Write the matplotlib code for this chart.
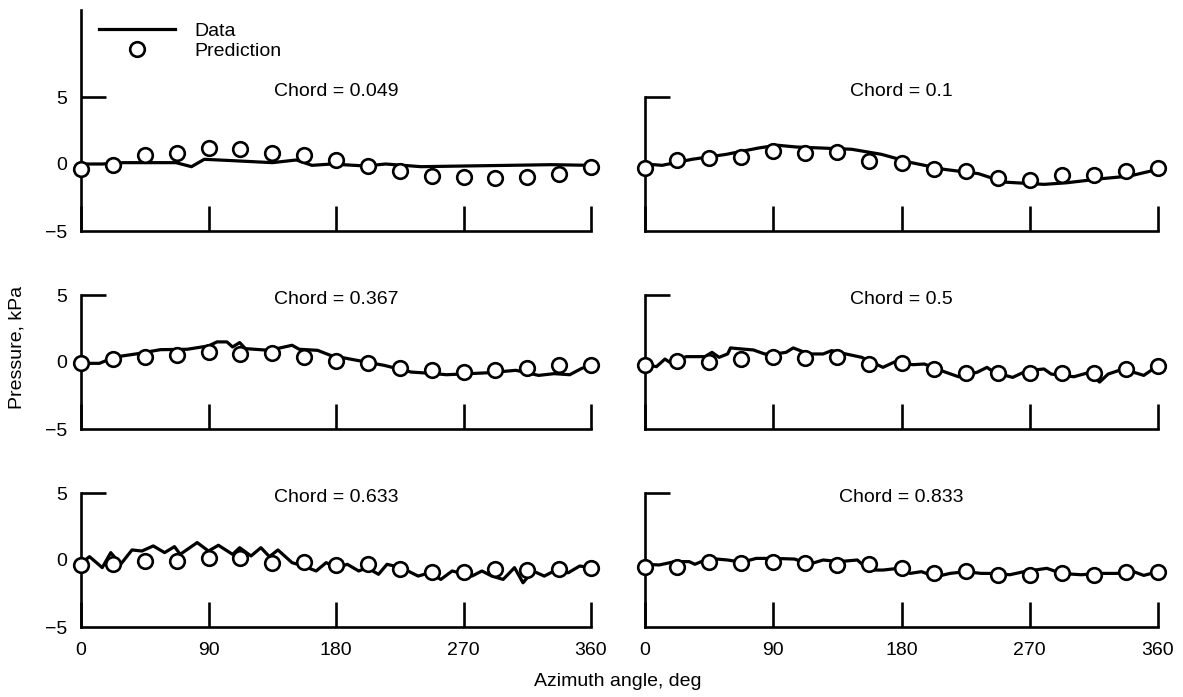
import matplotlib.pyplot as plt

plt.rcParams['font.family'] = ['Liberation Sans', 'DejaVu Sans']
plt.rcParams['font.size'] = 14

# prediction points, same azimuth stations in every panel
pred_angle = [0, 22.5, 45, 67.5, 90, 112.5, 135, 157.5, 180,
              202.5, 225, 247.5, 270, 292.5, 315, 337.5, 360]

chords = ['0.049', '0.1', '0.367', '0.5', '0.633', '0.833']

# chord = 0.049
data_ang_049 = [0, 15, 30, 48, 67, 78, 87, 107, 135, 152, 163, 177, 201, 215, 240, 270, 302, 332, 360]
data_049 = [0.0, 0.0, 0.1, 0.1, 0.1, -0.2, 0.35, 0.25, 0.1, 0.3, -0.1, 0.0, -0.15, 0.0, -0.2, -0.15, -0.1, -0.05, -0.1]
pred_049 = [-0.4, -0.05, 0.7, 0.85, 1.2, 1.1, 0.85, 0.7, 0.3, -0.15, -0.5, -0.9, -0.95, -1.05, -0.95, -0.75, -0.25]

# chord = 0.1
data_ang_1 = [0, 12, 33, 57, 80, 93, 106, 122, 145, 166, 187, 210, 234, 252, 280, 296, 320, 340, 360]
data_1 = [0.0, -0.1, 0.35, 0.72, 1.2, 1.4, 1.27, 1.2, 1.1, 0.72, 0.1, -0.4, -0.72, -1.35, -1.52, -1.4, -1.1, -0.9, -0.4]
pred_1 = [-0.27, 0.27, 0.42, 0.52, 0.97, 0.8, 0.92, 0.22, 0.1, -0.35, -0.52, -1.07, -1.22, -0.85, -0.85, -0.52, -0.32]

# chord = 0.367
data_ang_367 = [0, 13, 24, 40, 56, 75, 90, 96, 103, 107, 112, 116, 133, 149, 154, 167, 176, 195,
                214, 233, 250, 258, 274, 288, 307, 323, 334, 345, 353, 360]
data_367 = [-0.1, -0.1, 0.37, 0.62, 0.92, 0.95, 1.2, 1.5, 1.5, 1.12, 1.45, 1.0, 0.87, 1.25, 0.95, 0.87, 0.5, 0.12,
            -0.25, -0.75, -0.87, -0.95, -0.87, -0.8, -0.62, -1.0, -0.87, -0.95, -0.5, -0.2]
pred_367 = [-0.1, 0.2, 0.35, 0.55, 0.75, 0.57, 0.67, 0.37, 0.07, -0.07, -0.42, -0.62, -0.75, -0.62, -0.45, -0.25, -0.2]

# chord = 0.5
data_ang_5 = [0, 8, 14, 17, 29, 42, 47, 52, 58, 60, 68, 76, 84, 91, 99, 104, 115, 125, 131, 141, 152, 167,
              175, 188, 196, 208, 220, 233, 240, 245, 258, 268, 280, 285, 301, 312, 319, 325, 332, 343, 350, 360]
data_5 = [-0.15, -0.35, 0.22, 0.0, 0.4, 0.4, 0.72, 0.35, 0.6, 1.05, 0.97, 0.9, 0.6, 0.6, 0.72, 1.05, 0.6, 0.6,
          0.85, 0.6, 0.35, -0.4, 0.0, -0.2, -0.15, -0.65, -1.1, -0.77, -0.4, -0.77, -1.15, -0.65, -0.52, -0.9,
          -1.1, -0.77, -1.5, -0.9, -0.65, -0.77, -1.0, -0.27]
pred_5 = [-0.2, 0.1, 0.02, 0.22, 0.35, 0.3, 0.35, -0.15, -0.1, -0.52, -0.85, -0.85, -0.85, -0.82, -0.85, -0.52, -0.27]

# chord = 0.633
data_ang_633 = [0, 6, 15, 21, 28, 36, 43, 51, 59, 66, 70, 82, 90, 97, 107, 112, 120, 127, 133, 139, 149, 157,
                166, 173, 181, 188, 196, 202, 210, 216, 226, 238, 246, 254, 262, 276, 283, 290, 298, 306, 312,
                319, 327, 334, 344, 352, 360]
data_633 = [-0.25, 0.25, -0.57, 0.55, -0.32, 0.75, 0.67, 1.05, 0.55, 1.0, 0.42, 1.3, 0.67, 1.1, 0.42, 0.92,
            0.3, 0.92, 0.25, 0.75, -0.2, -0.45, -0.82, -0.2, -0.57, -0.32, -0.82, -0.57, -1.07, -0.32, -0.57,
            -1.2, -0.95, -1.45, -0.82, -1.2, -0.82, -1.2, -1.45, -0.57, -1.7, -0.82, -1.2, -0.82, -0.95, -0.45, -0.57]
pred_633 = [-0.4, -0.32, -0.07, -0.07, 0.17, 0.17, -0.2, -0.15, -0.4, -0.32, -0.65, -0.87, -0.87, -0.7, -0.77, -0.65, -0.57]

# chord = 0.833
data_ang_833 = [0, 10, 21, 31, 35, 45, 58, 68, 78, 91, 105, 115, 125, 136, 149, 157, 167, 178, 186, 194, 204,
                214, 225, 236, 246, 256, 266, 282, 292, 306, 320, 331, 343, 350, 360]
data_833 = [-0.32, -0.37, -0.12, -0.12, -0.32, 0.12, 0.0, -0.17, 0.12, 0.12, 0.07, -0.32, 0.0, -0.12, 0.0,
            -0.75, -0.75, -0.62, -1.0, -0.87, -1.25, -1.0, -0.87, -1.0, -1.0, -1.1, -0.87, -0.62, -1.0, -1.1,
            -1.0, -1.0, -0.87, -1.15, -0.87]
pred_833 = [-0.5, -0.5, -0.17, -0.2, -0.17, -0.25, -0.37, -0.32, -0.62, -1.0, -0.82, -1.1, -1.1, -1.0, -1.15, -0.87, -0.92]

panels = [(data_ang_049, data_049, pred_049),
          (data_ang_1, data_1, pred_1),
          (data_ang_367, data_367, pred_367),
          (data_ang_5, data_5, pred_5),
          (data_ang_633, data_633, pred_633),
          (data_ang_833, data_833, pred_833)]

W, H = 1183, 697
fig = plt.figure(figsize=(W / 100, H / 100), dpi=100)

# axes frames in pixels: (left x, right x) and (y of +5, y of -5)
cols = [(81, 591), (645, 1158)]
rows = [(97, 231), (295, 429), (493, 627)]

axes = []
for i in range(6):
    r, c = divmod(i, 2)
    x0, x1 = cols[c]
    y5, ym5 = rows[r]
    top = y5
    if i == 0:
        top = 10  # legend lives above the first panel
    ax = fig.add_axes([x0 / W, 1 - ym5 / H, (x1 - x0) / W, (ym5 - top) / H])
    per_unit = (ym5 - y5) / 10.0
    ax.set_ylim(-5, -5 + (ym5 - top) / per_unit)
    ax.set_xlim(0, 360)
    axes.append(ax)

for i, ax in enumerate(axes):
    ang, dat, pred = panels[i]
    ax.plot(ang, dat, color='black', lw=2.3, solid_joinstyle='round', label='Data', zorder=2)
    ax.plot(pred_angle, pred, 'o', ms=10.5, mfc='white', mec='black', mew=1.9,
            label='Prediction', clip_on=False, zorder=3)

    for s in ['top', 'right']:
        ax.spines[s].set_visible(False)
    for s in ['left', 'bottom']:
        ax.spines[s].set_linewidth(1.9)

    ax.set_xticks([0, 90, 180, 270, 360])
    ax.set_yticks([-5, 0, 5])
    ax.set_yticklabels(['\u22125', '0', '5'])
    ax.tick_params(direction='in', length=18, width=1.9)
    ax.tick_params(axis='x', pad=11)
    ax.tick_params(axis='y', pad=10)
    yt = ax.yaxis.get_major_ticks()
    yt[0].tick1line.set_visible(False)
    yt[1].tick1line.set_visible(False)
    if i < 4:
        ax.tick_params(axis='x', labelbottom=False)
    if i % 2 == 1:
        ax.tick_params(axis='y', labelleft=False)

    ty = 5.4 if i < 2 else 4.7
    ax.text(180, ty, 'Chord = ' + chords[i], ha='center', va='center')

axes[0].legend(loc='upper left', bbox_to_anchor=(99 / W, 1 - 22 / H), bbox_transform=fig.transFigure,
               frameon=False, handlelength=3.9, handletextpad=1.0, labelspacing=0.15,
               borderpad=0, borderaxespad=0, numpoints=1)

fig.text(17 / W, 1 - 347 / H, 'Pressure, kPa', rotation=90, ha='center', va='center')
fig.text(618 / W, 1 - 682 / H, 'Azimuth angle, deg', ha='center', va='center')

fig.savefig('out.png', dpi=100)
